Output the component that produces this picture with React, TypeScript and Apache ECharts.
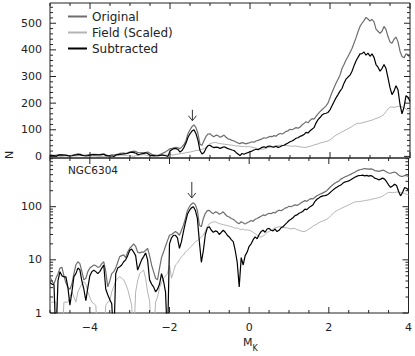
import React, { useEffect, useRef } from "react";
import * as echarts from "echarts";

// M_K grid: -5.00 to 4.00 in steps of 0.05
const mkStart = -5;
const mkStep = 0.05;

const original = [
  4.8, 4.0, 3.5, 4.5, 5.5, 7, 7.2, 5, 3.7, 3,
  2.8, 3.5, 5.5, 8, 9.2, 8.5, 6, 4.2, 4.5, 6,
  7, 7.5, 8, 7.8, 7.2, 7.4, 8.5, 9.2, 6, 3.1,
  4, 5.5, 6, 7, 9, 11.5, 12, 12.4, 11, 14,
  16.4, 18, 20, 18, 14, 13.5, 14, 14, 15, 16.4,
  12, 8, 6, 4.5, 4.2, 7, 11, 14, 18, 23,
  29, 30, 32, 34, 32, 29, 36, 45, 60, 85,
  100, 112, 118, 108, 85, 45, 42, 60, 75, 84,
  85, 78, 74, 80, 78, 72, 75, 80, 72, 66,
  64, 60, 58, 54, 50, 48, 52, 50, 47, 50,
  52, 55, 53, 58, 60, 63, 66, 70, 68, 72,
  75, 74, 78, 76, 82, 86, 84, 88, 94, 96,
  102, 100, 104, 108, 106, 110, 118, 124, 130, 126,
  135, 142, 140, 150, 160, 168, 175, 182, 190, 200,
  220, 240, 258, 275, 290, 305, 330, 345, 362, 375,
  390, 405, 425, 445, 468, 488, 500, 510, 522, 516,
  508, 515, 505, 478, 470, 462, 470, 488, 476, 450,
  430, 425, 440, 448, 430, 395, 375, 370, 385, 382,
  370,
];

const field = [
  1.6, 1.6, 1.6, 1.6, 0, 0, 0, 1.6, 1.6, 1.6,
  2, 2.5, 2, 1.6, 2.5, 3, 3.5, 3.9, 3.5, 2.5,
  2, 1.6, 1.5, 1.4, 0, 0, 0, 0, 1.4, 1.6,
  1.7, 2.5, 3.1, 4, 4.5, 4.8, 4.5, 4.2, 3.5, 2.8,
  2, 1.4, 0, 2.5, 4, 5.5, 6, 6.4, 4.5, 2.5,
  1.7, 0, 0, 1.6, 2, 3, 3.7, 4.5, 5, 5.5,
  8, 4.5, 6, 8, 8.7, 10, 11.5, 12.3, 14, 15,
  16.5, 18, 20, 22, 23, 25, 27, 29, 35, 42,
  48, 50, 52, 52, 50, 48, 47, 46, 45, 44,
  43, 42, 41, 39, 40, 38, 37, 38, 36, 37,
  36, 35, 33, 31, 29, 27, 27, 28, 30, 33,
  34, 36, 38, 40, 41, 42, 42, 41, 40, 40,
  39, 38, 39, 39, 37, 36, 35, 34, 34, 36,
  38, 40, 43, 45, 47, 50, 52, 54, 56, 58,
  62, 68, 74, 80, 84, 88, 92, 96, 100, 104,
  108, 112, 118, 122, 125, 124, 126, 128, 130, 132,
  134, 136, 140, 142, 145, 148, 152, 158, 168, 178,
  185, 186, 184, 186, 188, 188, 186, 183, 178, 172,
  168,
];

const subtracted = [
  3.7, 3.5, 3.4, 0, 4, 6, 5, 4.8, 4.8, 3,
  1.4, 2.5, 4.8, 5.5, 7, 6.5, 4, 2.8, 1.7, 3,
  5, 6, 6.4, 6, 5.5, 6, 7, 8, 2.8, 2.2,
  1.8, 1.5, 0, 5.5, 7, 7.4, 8, 9.2, 10, 12,
  15, 16, 14, 12, 6.4, 8, 10, 11.5, 13.5, 10,
  4.2, 3.5, 3.1, 2.5, 2.8, 3.5, 5.5, 4, 2.5, 0,
  20, 26, 29, 29, 26, 16.5, 22, 34, 50, 72,
  85, 95, 100, 85, 60, 22, 9, 15, 30, 40,
  42, 36, 33, 35, 34, 30, 33, 36, 33, 29,
  27, 24, 22, 15, 9, 3.1, 11, 8, 12, 14,
  18, 20, 24, 27, 25, 30, 34, 36, 33, 38,
  39, 36, 35, 38, 34, 36, 40, 42, 46, 50,
  55, 58, 62, 68, 70, 75, 78, 82, 90, 88,
  96, 102, 108, 125, 138, 146, 155, 160, 162, 165,
  175, 190, 205, 220, 232, 245, 255, 275, 290, 298,
  305, 320, 340, 358, 372, 385, 386, 392, 380, 388,
  376, 385, 372, 345, 335, 320, 330, 345, 330, 295,
  258, 232, 245, 265, 250, 195, 160, 185, 228, 222,
  206,
];

const seriesNames = ["Original", "Field (Scaled)", "Subtracted"];
const seriesColors = ["#6e6e6e", "#b4b4b4", "#000000"];
const seriesWidths = [1.2, 1, 1.2];

const xRange = [-5, 4];
const linRange = [-6, 576];
const logRange = [1, 824];

const xMajorTicks = [-4, -2, 0, 2, 4];
const xMinorTicks = [-5, -4.5, -4, -3.5, -3, -2.5, -2, -1.5, -1, -0.5, 0, 0.5, 1, 1.5, 2, 2.5, 3, 3.5, 4];
const linMajorTicks = [0, 100, 200, 300, 400, 500];
const linMinorTicks = [
  0, 20, 40, 60, 80, 100, 120, 140, 160, 180, 200, 220, 240, 260, 280, 300,
  320, 340, 360, 380, 400, 420, 440, 460, 480, 500, 520, 540, 560,
];
const logMajorTicks = [1, 10, 100];
const logMinorTicks = [2, 3, 4, 5, 6, 7, 8, 9, 20, 30, 40, 50, 60, 70, 80, 90, 200, 300, 400, 500, 600, 700, 800];

const arrowM = -1.44;
const arrowLin = [175, 134];
const arrowLog = [292, 146];

const FONT = "DejaVu Sans";
const INK = "#222";
const MAJOR_LEN = 6;
const MINOR_LEN = 3;

export default function App() {
  const ref = useRef<HTMLDivElement>(null);

  useEffect(() => {
    if (!ref.current) return;
    const chart = echarts.init(ref.current, null, { renderer: "svg" });
    const mk = original.map((_, i) => +(mkStart + i * mkStep).toFixed(2));
    const values = [original, field, subtracted];

    const xAxes: any[] = [];
    const yAxes: any[] = [];
    for (let g = 0; g < 2; g++) {
      xAxes.push({
        type: "value",
        gridIndex: g,
        position: "bottom",
        min: xRange[0],
        max: xRange[1],
        axisLine: { show: false, onZero: false },
        splitLine: { show: false },
        axisTick: { show: false },
        axisLabel: {
          show: g === 1,
          customValues: xMajorTicks,
          margin: 9,
          color: INK,
          fontSize: 11,
          fontFamily: FONT,
          formatter: (v: number) => String(v).replace("-", "\u2212"),
        },
      });
      yAxes.push(
        g === 0
          ? {
              type: "value",
              gridIndex: 0,
              min: linRange[0],
              max: linRange[1],
              axisLine: { show: false, onZero: false },
              splitLine: { show: false },
              axisTick: { show: false },
              axisLabel: { customValues: linMajorTicks, margin: 8, color: INK, fontSize: 11, fontFamily: FONT },
            }
          : {
              type: "log",
              logBase: 10,
              gridIndex: 1,
              min: logRange[0],
              max: logRange[1],
              axisLine: { show: false, onZero: false },
              splitLine: { show: false },
              axisTick: { show: false },
              axisLabel: { customValues: logMajorTicks, margin: 8, color: INK, fontSize: 11, fontFamily: FONT },
            }
      );
    }

    const order = [1, 0, 2]; // field first, then original, subtracted on top
    const series: any[] = [];
    const tickLine = (x1: number, y1: number, x2: number, y2: number) => ({
      type: "line",
      shape: { x1, y1, x2, y2 },
      style: { stroke: INK, lineWidth: 1 },
    });
    for (let g = 0; g < 2; g++) {
      for (const k of order) {
        series.push({
          type: "line",
          name: seriesNames[k],
          xAxisIndex: g,
          yAxisIndex: g,
          symbol: "none",
          clip: true,
          color: seriesColors[k],
          lineStyle: { color: seriesColors[k], width: seriesWidths[k] },
          z: 2 + k,
          data: values[k].map((v, i) => [mk[i], g === 1 && v <= 0 ? 0.3 : v]),
        });
      }
      const yr = g === 0 ? linRange : logRange;
      // x-axis ticks, bottom and top, pointing inward
      series.push({
        type: "custom",
        xAxisIndex: g,
        yAxisIndex: g,
        clip: false,
        silent: true,
        z: 12,
        encode: { x: 0, y: [1, 2] },
        data: xMinorTicks.map((v) => [v, yr[0], yr[1]]),
        renderItem: (params: any, api: any) => {
          const v = api.value(0);
          const pb = api.coord([v, api.value(1)]);
          const pt = api.coord([v, api.value(2)]);
          const len = xMajorTicks.includes(v) ? MAJOR_LEN : MINOR_LEN;
          return {
            type: "group",
            children: [tickLine(pb[0], pb[1], pb[0], pb[1] - len), tickLine(pt[0], pt[1], pt[0], pt[1] + len)],
          };
        },
      });
      // y-axis ticks, left and right, pointing inward
      const maj = g === 0 ? linMajorTicks : logMajorTicks;
      const mnr = g === 0 ? linMinorTicks : logMinorTicks;
      const all = [...maj, ...mnr.filter((v) => !maj.includes(v))];
      series.push({
        type: "custom",
        xAxisIndex: g,
        yAxisIndex: g,
        clip: false,
        silent: true,
        z: 12,
        encode: { x: [0, 1], y: 2 },
        data: all.map((v) => [xRange[0], xRange[1], v]),
        renderItem: (params: any, api: any) => {
          const v = api.value(2);
          const pl = api.coord([api.value(0), v]);
          const pr = api.coord([api.value(1), v]);
          const len = maj.includes(v) ? MAJOR_LEN : MINOR_LEN;
          return {
            type: "group",
            children: [tickLine(pl[0], pl[1], pl[0] + len, pl[1]), tickLine(pr[0], pr[1], pr[0] - len, pr[1])],
          };
        },
      });
      const arr = g === 0 ? arrowLin : arrowLog;
      series.push({
        type: "custom",
        xAxisIndex: g,
        yAxisIndex: g,
        clip: false,
        silent: true,
        z: 10,
        encode: { x: 0, y: [1, 2] },
        data: [[arrowM, arr[0], arr[1]]],
        renderItem: (params: any, api: any) => {
          const p1 = api.coord([api.value(0), api.value(1)]);
          const p2 = api.coord([api.value(0), api.value(2)]);
          return {
            type: "group",
            children: [
              { type: "line", shape: { x1: p1[0], y1: p1[1], x2: p2[0], y2: p2[1] }, style: { stroke: "#333", lineWidth: 1 } },
              {
                type: "polyline",
                shape: { points: [[p2[0] - 4, p2[1] - 5], [p2[0], p2[1]], [p2[0] + 4, p2[1] - 5]] },
                style: { stroke: "#333", fill: null, lineWidth: 1 },
              },
            ],
          };
        },
      });
    }

    chart.setOption({
      animation: false,
      backgroundColor: "#fff",
      textStyle: { fontFamily: FONT },
      grid: [
        { left: 50, right: 5, top: 3, height: 155, show: true, borderColor: INK, borderWidth: 1, backgroundColor: "transparent" },
        { left: 50, right: 5, top: 158, height: 155, show: true, borderColor: INK, borderWidth: 1, backgroundColor: "transparent" },
      ],
      legend: {
        data: seriesNames,
        orient: "vertical",
        left: 68,
        top: 10,
        padding: 0,
        icon: "rect",
        itemWidth: 19,
        itemHeight: 2,
        itemGap: 3,
        selectedMode: false,
        textStyle: { fontSize: 12, color: INK, fontFamily: FONT, lineHeight: 13 },
      },
      xAxis: xAxes,
      yAxis: yAxes,
      series,
      graphic: [
        {
          type: "text",
          x: 9,
          y: 155,
          rotation: Math.PI / 2,
          style: { text: "N", fill: INK, fontSize: 11, fontFamily: FONT, align: "center", verticalAlign: "middle" },
        },
        {
          type: "text",
          x: 68,
          y: 164,
          style: { text: "NGC6304", fill: INK, fontSize: 10.5, fontFamily: FONT },
        },
        {
          type: "text",
          x: 243,
          y: 337,
          style: {
            text: "{m|M}{k|K}",
            rich: {
              m: { fontSize: 11, fontFamily: FONT, fill: INK, lineHeight: 13, verticalAlign: "top" },
              k: { fontSize: 8, fontFamily: FONT, fill: INK, lineHeight: 8, padding: [7, 0, 0, 0], verticalAlign: "top" },
            },
          },
        },
      ],
    });
    return () => chart.dispose();
  }, []);

  return <div ref={ref} style={{ width: 415, height: 356, position: "absolute", left: 0, top: 0 }} />;
}
